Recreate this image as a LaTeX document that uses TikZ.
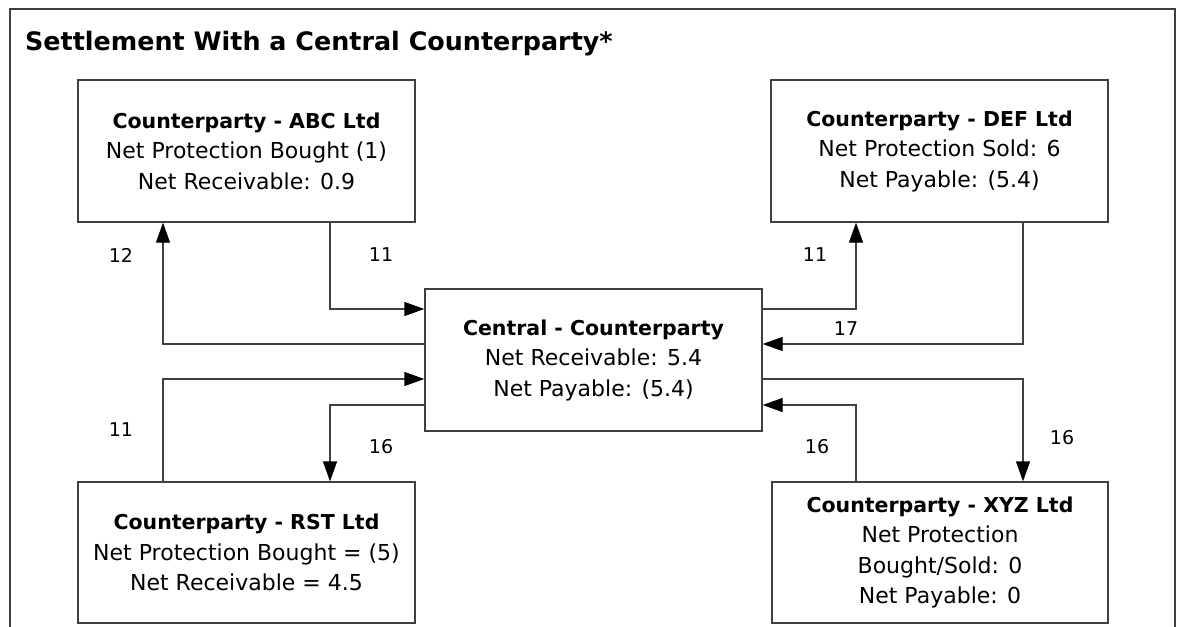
\documentclass[tikz,border=0pt]{standalone}
\usepackage{fontspec}
\setmainfont{DejaVu Sans}
\usetikzlibrary{arrows.meta,calc}
\begin{document}
\begin{tikzpicture}[x=1pt,y=-1pt,
  line/.style={draw=black!75,line width=1.4pt},
  box/.style={line,rectangle,minimum width=337pt,minimum height=142pt,inner sep=0pt,align=center,
    font=\fontsize{22}{30.5}\selectfont},
  conn/.style={line,-{Triangle[length=20pt,width=14pt,fill=black,color=black]}},
  num/.style={font=\fontsize{19}{21}\selectfont,inner sep=0pt}]
\useasboundingbox (0,0) rectangle (1177,626);
\draw[line] (10,640) -- (10,9) -- (1175,9) -- (1175,640);
\node[anchor=base west,inner sep=0pt,font=\bfseries\fontsize{25.4}{30}\selectfont] (title) at (25,51) {Settlement With a Central Counterparty*};
\newcommand{\hd}[1]{{\bfseries\fontsize{20.5}{30.5}\selectfont #1}}
\node[box] (abc) at (246.5,151) {\hd{Counterparty - ABC Ltd}\\Net Protection Bought (1)\\Net Receivable: 0.9};
\node[box] (def) at (939.5,151) {\hd{Counterparty - DEF Ltd}\\Net Protection Sold: 6\\Net Payable: (5.4)};
\node[box] (cen) at (593.5,360) {\hd{Central - Counterparty}\\Net Receivable: 5.4\\Net Payable: (5.4)};
\node[box,minimum height=141pt] (rst) at (246.5,552.5) {\hd{Counterparty - RST Ltd}\\Net Protection Bought = (5)\\Net Receivable = 4.5};
\node[box,minimum width=336pt,minimum height=141pt] (xyz) at (940,552.5) {\hd{Counterparty - XYZ Ltd}\\Net Protection\\Bought/Sold: 0\\Net Payable: 0};
% left side
\draw[conn] ([xshift=83.5pt]abc.south) |- ([yshift=51pt]cen.west);
\draw[conn] ([yshift=16pt]cen.west) -| ([xshift=-83.5pt]abc.south);
\draw[conn] ([xshift=-83.5pt]rst.north) |- ([yshift=-19pt]cen.west);
\draw[conn] ([yshift=-45pt]cen.west) -| ([xshift=83.5pt]rst.north);
% right side
\draw[conn] ([yshift=51pt]cen.east) -| ([xshift=-83.5pt]def.south);
\draw[conn] ([xshift=83.5pt]def.south) |- ([yshift=16pt]cen.east);
\draw[conn] ([yshift=-19pt]cen.east) -| ([xshift=83pt]xyz.north);
\draw[conn] ([xshift=-84pt]xyz.north) |- ([yshift=-45pt]cen.east);
% labels
\node[num] (l1) at (121,255) {12};
\node[num] (l2) at (381,255) {11};
\node[num] (l3) at (121,430) {11};
\node[num] (l4) at (381,447) {16};
\node[num] (l5) at (815,255) {11};
\node[num] (l6) at (846,329) {17};
\node[num] (l7) at (817,447) {16};
\node[num] (l8) at (1062,438) {16};
\end{tikzpicture}
\end{document}
